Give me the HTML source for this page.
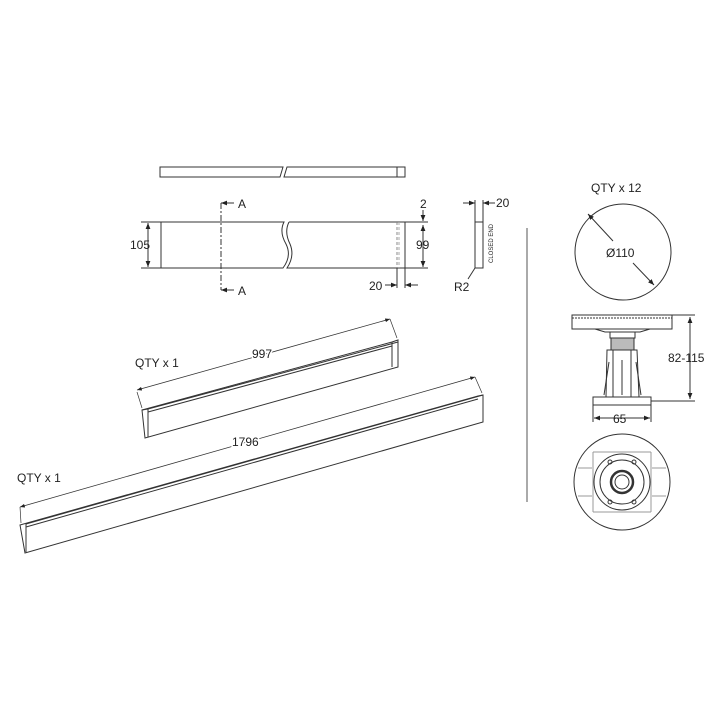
<!DOCTYPE html>
<html><head><style>
html,body{margin:0;padding:0;background:#fff;}
svg{display:block;}
text{font-family:"Liberation Sans",sans-serif;fill:#222;}
</style></head><body>
<svg width="720" height="720" viewBox="0 0 720 720" xmlns="http://www.w3.org/2000/svg">
<defs>
<marker id="ar" viewBox="0 0 10 10" refX="10" refY="5" markerWidth="6" markerHeight="6" orient="auto-start-reverse"><path d="M0,1 L10,5 L0,9z" fill="#222"/></marker>
</defs>
<g stroke="#333" stroke-width="1" fill="none">
<path d="M160,167 H283 L280,177 H160 Z"/>
<path d="M287,167 H405 V177 H284 Z"/>
<line x1="397" y1="167" x2="397" y2="177"/>
<path d="M161,222 H284 Q279,232 286,244 Q292,256 283,268 H161 Z"/>
<path d="M289,222 H405 V268 H287 Q295,256 290,244 Q284,232 289,222"/>
<line x1="397" y1="222" x2="397" y2="268" stroke="#888" stroke-dasharray="3,2"/>
<line x1="399" y1="222" x2="399" y2="268" stroke="#aaa" stroke-dasharray="3,2"/>
<line x1="221" y1="203" x2="221" y2="290" stroke-dasharray="6,2,2,2"/>
<line x1="221" y1="203" x2="234" y2="203" marker-start="url(#ar)"/>
<line x1="221" y1="290" x2="234" y2="290" marker-start="url(#ar)"/>
<line x1="141" y1="222" x2="161" y2="222"/><line x1="141" y1="268" x2="161" y2="268"/>
<line x1="148" y1="223" x2="148" y2="267" marker-start="url(#ar)" marker-end="url(#ar)"/>
<line x1="405" y1="222" x2="428" y2="222"/><line x1="405" y1="268" x2="428" y2="268"/>
<line x1="423" y1="225" x2="423" y2="267" marker-start="url(#ar)" marker-end="url(#ar)"/>
<line x1="423" y1="210" x2="423" y2="221" marker-end="url(#ar)"/>
<line x1="397" y1="268" x2="397" y2="288"/><line x1="405" y1="268" x2="405" y2="288"/>
<line x1="385" y1="285" x2="397" y2="285" marker-end="url(#ar)"/>
<line x1="418" y1="285" x2="405" y2="285" marker-end="url(#ar)"/>
<rect x="475" y="222" width="8" height="46"/>
<line x1="475" y1="200" x2="475" y2="222"/><line x1="483" y1="200" x2="483" y2="222"/>
<line x1="463" y1="203" x2="475" y2="203" marker-end="url(#ar)"/>
<line x1="495" y1="203" x2="483" y2="203" marker-end="url(#ar)"/>
<line x1="468" y1="279" x2="475" y2="268"/>
<line x1="527" y1="228" x2="527" y2="502" stroke="#555"/>
<circle cx="623" cy="252" r="48"/>
<line x1="588" y1="214" x2="613" y2="241" marker-start="url(#ar)"/>
<line x1="633" y1="263" x2="654" y2="285" marker-end="url(#ar)"/>
<rect x="572" y="315" width="100" height="14"/>
<line x1="572" y1="318" x2="672" y2="318" stroke-dasharray="2,1"/>
<path d="M595,329 L605,332 H640 L650,329"/>
<rect x="610" y="332" width="25" height="6"/>
<rect x="611" y="338" width="23" height="12" fill="#bbb"/>
<path d="M607,350 H637 L639,397 H606 Z"/>
<line x1="613" y1="350" x2="613" y2="397"/><line x1="631" y1="350" x2="631" y2="397"/>
<line x1="622" y1="360" x2="622" y2="395"/>
<line x1="604" y1="395" x2="609" y2="362"/><line x1="641" y1="395" x2="636" y2="362"/>
<rect x="593" y="397" width="58" height="8"/>
<line x1="672" y1="315" x2="695" y2="315"/><line x1="651" y1="401" x2="695" y2="401"/>
<line x1="690" y1="317" x2="690" y2="399" marker-start="url(#ar)" marker-end="url(#ar)"/>
<line x1="593" y1="405" x2="593" y2="422"/><line x1="651" y1="405" x2="651" y2="422"/>
<line x1="594" y1="418" x2="650" y2="418" marker-start="url(#ar)" marker-end="url(#ar)"/>
<circle cx="622" cy="482" r="48"/>
<circle cx="622" cy="482" r="28"/>
<circle cx="622" cy="482" r="22"/>
<circle cx="622" cy="482" r="11" stroke-width="2.5"/>
<circle cx="622" cy="482" r="7"/>
<g stroke="#999"><line x1="593" y1="452" x2="651" y2="452"/><line x1="593" y1="512" x2="651" y2="512"/>
<line x1="593" y1="452" x2="593" y2="512"/><line x1="651" y1="452" x2="651" y2="512"/>
<path d="M578,468 h14 M652,468 h14 M578,496 h14 M652,496 h14"/></g>
<circle cx="610" cy="462" r="2"/><circle cx="634" cy="462" r="2"/><circle cx="610" cy="502" r="2"/><circle cx="634" cy="502" r="2"/>
<path d="M142,410 L392,342 L398,340 L398,367 L145,438 Z"/>
<line x1="142" y1="410" x2="148" y2="409"/>
<line x1="148" y1="409" x2="398" y2="342"/>
<line x1="148" y1="412" x2="392" y2="346"/>
<line x1="148" y1="409" x2="148" y2="437"/>
<line x1="392" y1="342" x2="392" y2="367"/>
<line x1="137" y1="392" x2="142" y2="408" stroke-width="0.7"/>
<line x1="390" y1="319" x2="397" y2="338" stroke-width="0.7"/>
<line x1="137" y1="390" x2="390" y2="319" stroke-width="0.8" marker-start="url(#ar)" marker-end="url(#ar)"/>
<path d="M20,525 L478,396 L483,395 L483,422 L25,553 Z"/>
<line x1="26" y1="524" x2="483" y2="395"/>
<line x1="26" y1="527" x2="478" y2="399"/>
<line x1="26" y1="524" x2="26" y2="552"/>
<line x1="20" y1="507" x2="21" y2="523" stroke-width="0.7"/>
<line x1="475" y1="377" x2="482" y2="393" stroke-width="0.7"/>
<line x1="20" y1="507" x2="475" y2="377" stroke-width="0.8" marker-start="url(#ar)" marker-end="url(#ar)"/>
</g>
<g font-size="12">
<text x="238" y="208">A</text>
<text x="238" y="295">A</text>
<text x="130" y="249">105</text>
<text x="416" y="249">99</text>
<text x="420" y="208">2</text>
<text x="369" y="290">20</text>
<text x="496" y="207">20</text>
<text x="454" y="291">R2</text>
<text x="0" y="0" font-size="6" transform="translate(493,263) rotate(-90)">CLOSED END</text>
<text x="591" y="192">QTY x 12</text>
<text x="606" y="257">Ø110</text>
<text x="668" y="362">82-115</text>
<text x="613" y="423">65</text>
<text x="135" y="367">QTY x 1</text>
<text x="252" y="358" style="paint-order:stroke" stroke="#fff" stroke-width="3">997</text>
<text x="232" y="446" style="paint-order:stroke" stroke="#fff" stroke-width="3">1796</text>
<text x="17" y="482">QTY x 1</text>
</g>
</svg>
</body></html>
